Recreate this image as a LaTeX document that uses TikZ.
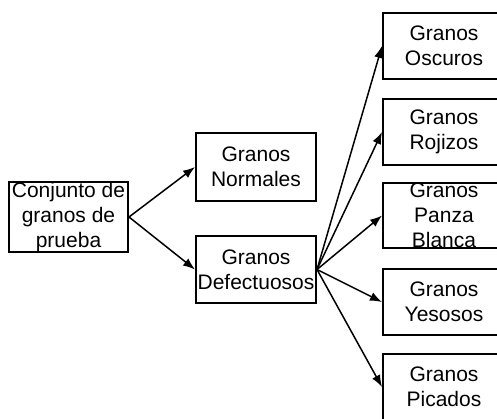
\documentclass[tikz,border=0pt]{standalone}
\usepackage{fontspec}
\setmainfont{Liberation Sans}
\usetikzlibrary{arrows.meta}
\begin{document}
\begin{tikzpicture}[x=1pt,y=-1pt,
  box/.style={draw, line width=2pt, inner sep=0pt, align=center,
    font=\fontsize{21}{25}\selectfont},
  arr/.style={line width=1.5pt, -{Latex[length=12pt,width=9pt]}}]
\useasboundingbox (0,0) rectangle (497,418);
\node[box, minimum width=119pt, minimum height=68pt] (conj) at (68.5,217) {Conjunto de\\granos de\\prueba};
\node[box, minimum width=120pt, minimum height=68pt] (norm) at (256,167) {Granos\\Normales};
\node[box, minimum width=120pt, minimum height=67pt] (def) at (256,269.5) {Granos\\Defectuosos};
\node[box, minimum width=122pt, minimum height=66pt] (osc) at (444,46) {Granos\\Oscuros};
\node[box, minimum width=122pt, minimum height=66pt] (roj) at (444,132) {Granos\\Rojizos};
\node[box, minimum width=122pt, minimum height=65pt] (pan) at (444,215.5) {Granos\\Panza\\Blanca};
\node[box, minimum width=122pt, minimum height=66pt] (yes) at (444,302) {Granos\\Yesosos};
\node[box, minimum width=122pt, minimum height=66pt] (pic) at (444,387) {Granos\\Picados};
\draw[arr] (conj.east) -- (norm.west);
\draw[arr] (conj.east) -- (def.west);
\draw[arr] (def.east) -- (osc.west);
\draw[arr] (def.east) -- (roj.west);
\draw[arr] (def.east) -- (pan.west);
\draw[arr] (def.east) -- (yes.west);
\draw[arr] (def.east) -- (pic.west);
\end{tikzpicture}
\end{document}
